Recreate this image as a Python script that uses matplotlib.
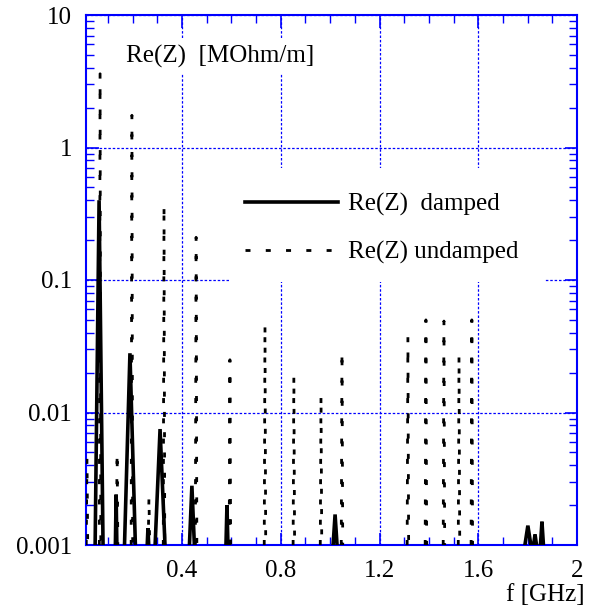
"""
Re(Z) spectrum, damped vs undamped, log scale.
"""

import matplotlib
matplotlib.use("Agg")
import numpy as np
import matplotlib.pyplot as plt
from matplotlib.patches import Rectangle
from matplotlib.ticker import FixedLocator, LogLocator, NullFormatter

# resonance peaks (f in GHz, Re(Z) in MOhm/m)
damped_f = [0.064, 0.133, 0.189, 0.262, 0.311, 0.44, 0.582, 1.02, 1.801, 1.83, 1.858]
damped_peak = [0.4, 0.0024, 0.028, 0.00134, 0.0075, 0.0028, 0.002, 0.0017, 0.0014, 0.0012, 0.0015]
damped_halfwidth = [0.016, 0.003, 0.022, 0.003, 0.02, 0.01, 0.004, 0.008, 0.012, 0.006, 0.006]

undamped_f = [0.015, 0.068, 0.137, 0.197, 0.266, 0.327, 0.457, 0.594, 0.736,
              0.853, 0.963, 1.048, 1.315, 1.388, 1.461, 1.522, 1.574]
undamped_peak = [0.0045, 3.6, 0.005, 1.75, 0.0023, 0.37, 0.21, 0.025, 0.046,
                 0.019, 0.0135, 0.029, 0.037, 0.05, 0.049, 0.027, 0.05]
undamped_halfwidth = 0.003

x_ticks = [0.4, 0.8, 1.2, 1.6, 2.0]
x_ticklabels = ["0.4", "0.8", "1.2", "1.6", "2"]
y_ticks = [0.001, 0.01, 0.1, 1, 10]
y_ticklabels = ["0.001", "0.01", "0.1", "1", "10"]

YMIN, YMAX = 0.001, 10
BLUE = "#0000ff"


def spikes(freqs, peaks, halfwidths):
    xs, ys = [], []
    for f, h, w in zip(freqs, peaks, halfwidths):
        xs += [f - w, f, f + w, np.nan]
        ys += [YMIN, h, YMIN, np.nan]
    return xs, ys


plt.rcParams["font.family"] = ["Liberation Serif", "DejaVu Serif"]
plt.rcParams["font.size"] = 18

fig = plt.figure(figsize=(5.92, 6.10), dpi=100)
ax = fig.add_axes([86 / 592, 1 - 545 / 610, 491 / 592, 530 / 610])

ax.set_yscale("log")
ax.set_xlim(0.011, 2.0)
ax.set_ylim(YMIN, YMAX)

xd, yd = spikes(damped_f, damped_peak, damped_halfwidth)
xu, yu = spikes(undamped_f, undamped_peak, [undamped_halfwidth] * len(undamped_f))
ax.plot(xd, yd, color="black", lw=2.6, solid_joinstyle="miter",
        label="Re(Z)  damped", zorder=4)
ax.plot(xu, yu, color="black", lw=2.0, linestyle=(0, (1.8, 5.5)),
        label="Re(Z) undamped", zorder=3)

# axes styling (ROOT-like)
for sp in ax.spines.values():
    sp.set_color(BLUE)
    sp.set_linewidth(1.5)
ax.xaxis.set_major_locator(FixedLocator(x_ticks))
ax.set_xticklabels(x_ticklabels)
ax.xaxis.set_minor_locator(FixedLocator(np.arange(0.1, 2.0, 0.1)))
ax.yaxis.set_major_locator(FixedLocator(y_ticks))
ax.set_yticklabels(y_ticklabels)
ax.yaxis.set_minor_locator(LogLocator(base=10, subs=np.arange(2, 10)))
ax.yaxis.set_minor_formatter(NullFormatter())
ax.tick_params(which="both", direction="in", color=BLUE, top=True, right=True)
ax.tick_params(which="major", length=9, width=1.2)
ax.tick_params(which="minor", length=6, width=1.0)
ax.tick_params(axis="x", which="major", pad=11)
ax.tick_params(axis="y", which="major", pad=10)

ax.grid(True, which="major", color=BLUE, linestyle=(0, (2, 1.5)), linewidth=0.9)
ax.set_axisbelow(True)

# white boxes behind legend / title hide the grid
ax.add_patch(Rectangle((0.293, 0.496), 0.642, 0.215, transform=ax.transAxes,
                       facecolor="white", edgecolor="none", zorder=1.5))
ax.text(0.273, 0.922, "Re(Z)  [MOhm/m]", transform=ax.transAxes, ha="center",
        va="center", zorder=2,
        bbox=dict(facecolor="white", edgecolor="none", pad=4))

ax.legend(loc="upper left", bbox_to_anchor=(0.324, 0.664), frameon=False,
          handlelength=3.7, handletextpad=0.4, labelspacing=0.99,
          borderpad=0, borderaxespad=0)

fig.text(585 / 592, 1 - 595 / 610, "f [GHz]", ha="right", va="center")

fig.savefig("out.png", dpi=100)
